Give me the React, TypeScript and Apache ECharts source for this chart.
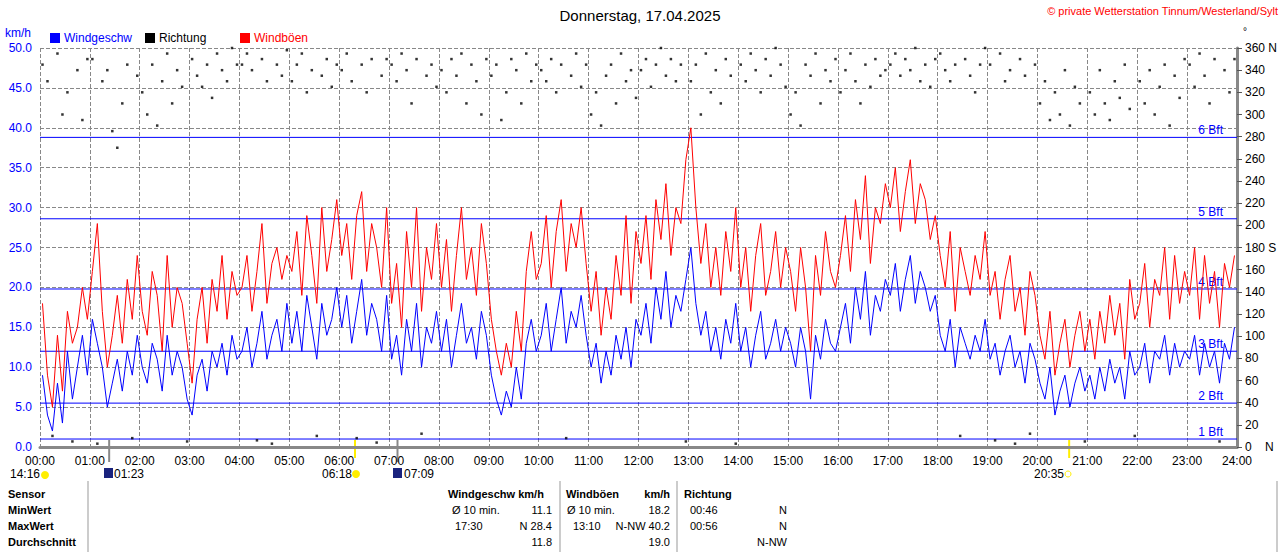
import React, { useEffect, useRef } from "react";
import * as echarts from "echarts";

const speed = [
  9,4,2,8,3,12,6,10,14,9, 16,13,10,5,8,11,7,12,9,14, 10,8,13,11,7,14,9,12,10,6, 4,9,11,7,12,10,13,9,14,11,
  12,15,10,13,17,11,14,16,12,18, 13,17,12,19,15,11,18,14,16,20, 15,19,13,17,21,14,18,16,12,19, 11,14,9,16,12,18,10,15,13,17,
  12,16,10,14,18,13,15,11,17,14, 9,6,4,7,5,10,6,13,16,12, 14,18,12,16,20,13,17,15,19,14, 10,13,8,12,9,14,11,15,10,16,
  14,18,13,20,16,22,15,19,17,21, 25,18,14,17,12,15,11,16,13,18, 12,15,10,14,17,11,13,16,12,15, 13,10,15,12,6,14,11,16,13,12,
  15,18,13,20,16,22,14,19,17,21, 19,23,17,21,24,18,22,20,17,19, 14,12,16,10,15,13,11,14,12,16, 11,13,9,12,14,10,12,8,13,11,
  8,6,10,4,7,9,5,8,10,7, 9,6,10,7,11,8,10,6,12,9, 10,13,8,12,11,14,9,13,10,12, 11,14,9,13,10,12,8,13,11,15,
];
const gust = [
  18,9,5,14,7,17,13,15,20,16, 22,28,17,10,14,19,13,21,16,24, 17,14,22,19,12,24,15,20,18,13, 8,16,20,13,21,17,24,16,22,19,
  20,24,17,22,28,18,23,25,21,24, 22,27,19,29,24,18,30,22,26,31, 24,28,21,29,32,22,28,25,20,30, 18,23,15,27,20,30,17,25,21,28,
  20,26,17,24,30,21,25,19,28,23, 16,12,9,13,10,17,12,22,27,21, 23,29,20,27,31,22,28,25,30,23, 17,22,14,20,16,24,19,29,18,27,
  23,29,21,31,26,33,24,30,28,36, 40,30,23,28,20,25,19,27,22,30, 20,25,17,24,28,19,22,27,20,25, 22,17,25,20,12,24,19,27,22,20,
  24,29,22,31,26,34,23,30,28,33, 30,35,27,32,36,28,33,31,26,29, 24,20,27,17,25,22,19,24,21,27, 19,22,16,21,24,17,20,14,22,19,
  14,11,17,9,13,16,10,14,17,12, 16,11,17,13,19,14,18,11,21,16, 18,23,15,21,19,25,16,24,18,22, 19,25,16,24,18,22,15,23,20,24,
];
const direction = [
  345,330,10,355,300,320,5,340,295,350, 350,3,330,340,285,270,310,345,8,335, 320,300,345,290,330,355,310,340,325,5, 350,335,325,345,315,355,340,330,360,345,
  345,355,340,6,350,330,3,345,335,358, 330,345,355,320,340,10,335,350,325,345, 340,355,330,8,345,320,350,4,335,350, 345,330,355,340,310,350,12,335,345,325,
  340,320,350,335,355,310,345,330,300,350, 335,345,295,320,350,340,310,355,330,345, 340,330,350,320,345,8,335,355,325,345, 300,320,290,335,345,310,355,330,340,315,
  340,350,325,345,360,335,350,330,345,5, 330,345,300,355,320,340,310,350,335,3, 345,330,355,340,320,350,335,360,345,325, 300,320,290,345,335,355,310,340,330,350,
  320,340,355,330,310,345,325,350,335,340, 345,355,335,350,340,360,330,345,325,350, 355,340,330,345,10,350,335,320,345,360, 345,6,355,330,340,3,350,335,12,345,
  310,330,295,320,300,340,290,325,310,5, 320,300,340,310,295,330,315,345,305,10, 330,310,340,300,325,345,290,335,315,350, 345,325,355,335,310,350,5,340,320,350,
];
const beaufort = [
  { v: 1, name: "1 Bft" }, { v: 5.5, name: "2 Bft" }, { v: 12, name: "3 Bft" },
  { v: 19.8, name: "4 Bft" }, { v: 28.6, name: "5 Bft" }, { v: 38.8, name: "6 Bft" },
];
const STEP = 6;

const px = (min: number) => 40 + (min / 1440) * 1200;
const F = "Liberation Sans, Arial, sans-serif";

export default function App() {
  const ref = useRef<HTMLDivElement>(null);
  useEffect(() => {
    document.body.style.margin = "0";
    const chart = echarts.init(ref.current!, null, { renderer: "svg" });
    const t = (x: number, y: number, text: string, o: any = {}) => ({
      type: "text", x, y, style: { text, font: `${o.bold ? "bold " : ""}${o.size || 12}px ${F}`, fill: o.color || "#000", textAlign: o.align || "left", textVerticalAlign: "middle" },
    });
    const vline = (x: number, y1: number, y2: number, color = "#999", w = 1) => ({ type: "line", shape: { x1: x, y1, x2: x, y2 }, style: { stroke: color, lineWidth: w } });
    const bftSeries = beaufort.map((b) => ({
      type: "line", name: b.name, symbol: "none", silent: true, z: 1,
      lineStyle: { color: "#0000ff", width: 1 }, itemStyle: { color: "#0000ff" },
      endLabel: { show: true, formatter: b.name, align: "right", verticalAlign: "bottom", offset: [-14, -1], distance: 0, color: "#0000ff", fontSize: 12, fontFamily: F },
      labelLayout: { hideOverlap: false },
      data: [[0, b.v], [1440, b.v]],
    }));
    chart.setOption({
      animation: false,
      grid: { left: 40, right: 40, top: 48, bottom: 105 },
      xAxis: {
        type: "value", min: 0, max: 1440, interval: 60,
        axisLine: { lineStyle: { color: "#888", width: 3 } },
        axisTick: { show: false },
        axisLabel: { color: "#000", fontSize: 12, fontFamily: F, formatter: (v: number) => String(v / 60).padStart(2, "0") + ":00" },
        splitLine: { show: true, lineStyle: { color: "#888", type: "dashed" } },
      },
      yAxis: [
        {
          type: "value", min: 0, max: 50, interval: 5,
          axisLine: { show: false }, axisTick: { show: false },
          axisLabel: { color: "#0000ff", fontSize: 12, fontFamily: F, formatter: (v: number) => v.toFixed(1) },
          splitLine: { lineStyle: { color: "#888", type: "dashed" } },
        },
        {
          type: "value", min: 0, max: 360, interval: 20, position: "right",
          axisLine: { show: true, lineStyle: { color: "#888", width: 3 } },
          axisTick: { show: true, length: 5, lineStyle: { color: "#555", width: 1 } },
          axisLabel: { color: "#000", fontSize: 12, fontFamily: F, formatter: (v: number) => v === 360 ? "360 N" : v === 180 ? "180 S" : v === 0 ? "0    N" : String(v) },
          splitLine: { show: false },
        },
      ],
      series: [
        ...bftSeries,
        {
          type: "scatter", yAxisIndex: 1, symbol: "rect", symbolSize: 2.5, itemStyle: { color: "#000" },
          data: direction.map((d, i) => [i * STEP + 3, d]),
        },
        {
          type: "line", symbol: "none", lineStyle: { color: "#ff0000", width: 1 }, itemStyle: { color: "#ff0000" },
          data: gust.map((d, i) => [i * STEP + 3, d]),
        },
        {
          type: "line", symbol: "none", lineStyle: { color: "#0000ff", width: 1 }, itemStyle: { color: "#0000ff" },
          data: speed.map((d, i) => [i * STEP + 3, d]),
        },
      ],
      graphic: [
        t(640, 15, "Donnerstag, 17.04.2025", { size: 15, align: "center" }),
        t(1278, 11, "© private Wetterstation Tinnum/Westerland/Sylt", { size: 11, color: "#ff0000", align: "right" }),
        t(1243, 31, "°", { size: 10 }),
        t(5, 33, "km/h", { size: 12, color: "#0000ff" }),
        { type: "rect", shape: { x: 50, y: 33, width: 10, height: 10 }, style: { fill: "#0000ff" } },
        t(64, 38, "Windgeschw", { color: "#0000ff" }),
        { type: "rect", shape: { x: 145, y: 33, width: 10, height: 10 }, style: { fill: "#000" } },
        t(159, 38, "Richtung"),
        { type: "rect", shape: { x: 240, y: 33, width: 10, height: 10 }, style: { fill: "#ff0000" } },
        t(254, 38, "Windböen", { color: "#ff0000" }),
        vline(px(83), 440, 462, "#888", 2),
        vline(px(429), 440, 462, "#888", 2),
        vline(px(378), 440, 458, "#ffee00", 2),
        vline(px(1235), 440, 458, "#ffee00", 2),
        t(10, 474, "14:16"),
        { type: "circle", shape: { cx: 45, cy: 475, r: 4 }, style: { fill: "#ffee00" } },
        { type: "rect", shape: { x: 104, y: 468, width: 9, height: 10 }, style: { fill: "#1a237e" } },
        t(114, 474, "01:23"),
        t(322, 474, "06:18"),
        { type: "circle", shape: { cx: 356, cy: 474, r: 4 }, style: { fill: "#ffee00" } },
        { type: "rect", shape: { x: 393, y: 468, width: 9, height: 10 }, style: { fill: "#1a237e" } },
        t(404, 474, "07:09"),
        t(1034, 474, "20:35"),
        { type: "circle", shape: { cx: 1068, cy: 474, r: 3 }, style: { fill: "#fff", stroke: "#ffee00" } },
        vline(88, 481, 552), vline(560, 481, 552), vline(677, 481, 552), vline(1277, 481, 552),
        t(8, 494, "Sensor", { bold: true, size: 11 }),
        t(8, 510, "MinWert", { bold: true, size: 11 }),
        t(8, 526, "MaxWert", { bold: true, size: 11 }),
        t(8, 542, "Durchschnitt", { bold: true, size: 11 }),
        t(448, 494, "Windgeschw km/h", { bold: true, size: 11 }),
        t(566, 494, "Windböen", { bold: true, size: 11 }),
        t(670, 494, "km/h", { bold: true, size: 11, align: "right" }),
        t(684, 494, "Richtung", { bold: true, size: 11 }),
        t(452, 510, "Ø 10 min.", { size: 11 }), t(552, 510, "11.1", { size: 11, align: "right" }),
        t(455, 526, "17:30", { size: 11 }), t(552, 526, "N 28.4", { size: 11, align: "right" }),
        t(552, 542, "11.8", { size: 11, align: "right" }),
        t(567, 510, "Ø 10 min.", { size: 11 }), t(670, 510, "18.2", { size: 11, align: "right" }),
        t(573, 526, "13:10", { size: 11 }), t(670, 526, "N-NW 40.2", { size: 11, align: "right" }),
        t(670, 542, "19.0", { size: 11, align: "right" }),
        t(690, 510, "00:46", { size: 11 }), t(787, 510, "N", { size: 11, align: "right" }),
        t(690, 526, "00:56", { size: 11 }), t(787, 526, "N", { size: 11, align: "right" }),
        t(787, 542, "N-NW", { size: 11, align: "right" }),
      ],
    });
    return () => chart.dispose();
  }, []);
  return <div ref={ref} style={{ width: 1280, height: 552, background: "#fff" }} />;
}
